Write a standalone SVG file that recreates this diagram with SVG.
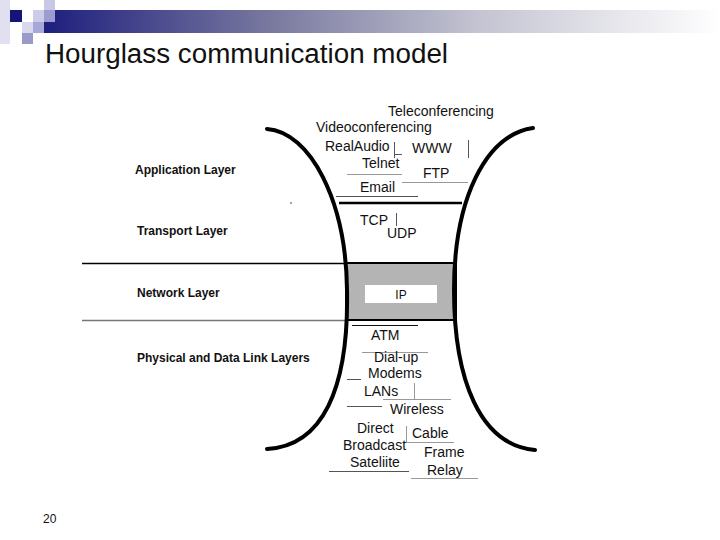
<svg xmlns="http://www.w3.org/2000/svg" width="720" height="540" viewBox="0 0 720 540">
<defs>
<linearGradient id="bar" x1="0" y1="0" x2="1" y2="0">
<stop offset="0" stop-color="#1a1a7c"/>
<stop offset="0.35" stop-color="#7a7aa0"/>
<stop offset="0.65" stop-color="#c4c4d2"/>
<stop offset="1" stop-color="#ffffff"/>
</linearGradient>
</defs>
<style>
text{font-family:"Liberation Sans",Arial,sans-serif;fill:#111}
.p{font-size:14px}
.l{font-size:12px;font-weight:bold}
.thin{stroke:#555;stroke-width:1;fill:none}
.lt{stroke:#999;stroke-width:1;fill:none}
.curve{stroke:#000;stroke-width:4;fill:none;stroke-linecap:round}
</style>
<rect width="720" height="540" fill="#fff"/>
<g id="header">
<rect x="33" y="10" width="687" height="23" fill="url(#bar)"/>
<rect x="0" y="0" width="10" height="44" fill="#e0e0f0"/>
<rect x="10" y="10" width="12" height="12" fill="#14147a"/>
<rect x="22" y="22" width="11" height="11" fill="#d8d8ee"/>
<rect x="33" y="10" width="11" height="12" fill="#ccccea"/>
<rect x="44" y="0" width="11" height="10" fill="#c8c8e4"/>
<rect x="44" y="10" width="11" height="12" fill="#9c9cd0"/>
<rect x="33" y="22" width="11" height="11" fill="#a8a8d8"/>
<rect x="22" y="33" width="11" height="11" fill="#9a9ac8"/>
</g>
<text id="title" x="45" y="63" font-size="27" textLength="403" lengthAdjust="spacingAndGlyphs">Hourglass communication model</text>
<g id="layer-lines">
<line x1="82" y1="263.5" x2="347" y2="263.5" stroke="#000" stroke-width="1.3"/>
<line x1="82" y1="320.5" x2="347" y2="320.5" stroke="#777" stroke-width="1.3"/>
</g>
<g id="layers">
<text class="l" x="135" y="174">Application Layer</text>
<text class="l" x="137" y="235">Transport Layer</text>
<text class="l" x="137" y="297">Network Layer</text>
<text class="l" x="137" y="362">Physical and Data Link Layers</text>
</g>
<circle cx="291" cy="203" r="0.8" fill="#333"/>
<g id="network-box">
<rect x="346" y="263" width="110" height="57" fill="#b4b4b4" stroke="#000" stroke-width="2"/>
<rect x="365" y="285" width="72" height="18" fill="#fff"/>
<text x="401" y="299" font-size="12" text-anchor="middle">IP</text>
</g>
<g id="hourglass">
<path class="curve" d="M267,129 C310,132 346,200 347,290 C349,390 322,446 267,449"/>
<path class="curve" d="M533,128 C485,135 454,200 454,290 C454,380 480,445 535,450"/>
<line x1="339" y1="203" x2="462" y2="203" stroke="#000" stroke-width="2.5"/>
</g>
<g id="application">
<text class="p" x="388" y="116">Teleconferencing</text>
<text class="p" x="316" y="132">Videoconferencing</text>
<text class="p" x="325" y="151">RealAudio</text>
<path class="thin" d="M394.5,142 V158 M394.5,154.5 H402"/>
<text class="p" x="412" y="153">WWW</text>
<line class="thin" x1="468.5" y1="140" x2="468.5" y2="158"/>
<text class="p" x="362" y="168">Telnet</text>
<line class="lt" x1="347" y1="174.5" x2="402" y2="174.5"/>
<text class="p" x="423" y="178">FTP</text>
<line class="lt" x1="402" y1="182.5" x2="468" y2="182.5"/>
<text class="p" x="360" y="192">Email</text>
<line class="thin" x1="336" y1="196.5" x2="418" y2="196.5"/>
</g>
<g id="transport">
<text class="p" x="360" y="225">TCP</text>
<line class="thin" x1="396.5" y1="213" x2="396.5" y2="226"/>
<text class="p" x="387" y="238">UDP</text>
</g>
<g id="physical">
<line x1="352" y1="325.5" x2="418" y2="325.5" stroke="#111" stroke-width="1"/>
<text class="p" x="371" y="340">ATM</text>
<line class="lt" x1="362" y1="352.5" x2="428" y2="352.5"/>
<text class="p" x="374" y="362">Dial-up</text>
<text class="p" x="368" y="378">Modems</text>
<line class="thin" x1="347" y1="379.5" x2="361" y2="379.5"/>
<line class="lt" x1="414.5" y1="383" x2="414.5" y2="399"/>
<text class="p" x="364" y="396">LANs</text>
<line class="lt" x1="383" y1="399.5" x2="451" y2="399.5"/>
<line class="thin" x1="347" y1="406.5" x2="382" y2="406.5"/>
<text class="p" x="390" y="414">Wireless</text>
<text class="p" x="357" y="433">Direct</text>
<line class="lt" x1="406.5" y1="426" x2="406.5" y2="442"/>
<text class="p" x="412" y="438">Cable</text>
<line class="lt" x1="406" y1="442.5" x2="454" y2="442.5"/>
<text class="p" x="343" y="450">Broadcast</text>
<text class="p" x="424" y="457">Frame</text>
<text class="p" x="350" y="467">Sateliite</text>
<line class="thin" x1="329" y1="471.5" x2="409" y2="471.5"/>
<text class="p" x="427" y="475">Relay</text>
<line class="lt" x1="411" y1="478.5" x2="478" y2="478.5"/>
</g>
<text id="page-number" x="43" y="523" font-size="12">20</text>
</svg>
